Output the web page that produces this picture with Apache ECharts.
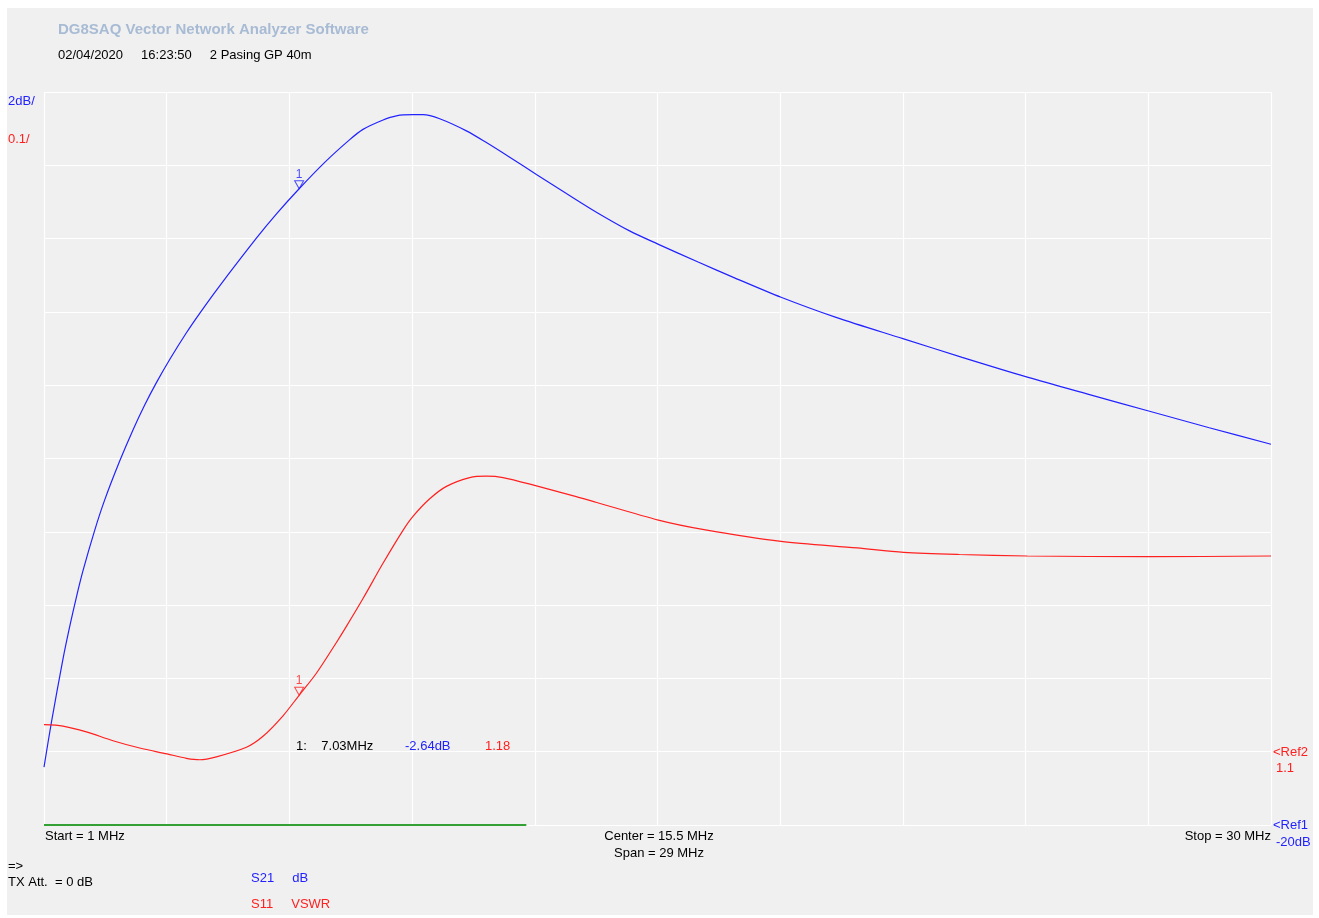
<!DOCTYPE html>
<html>
<head>
<meta charset="utf-8">
<script src="https://cdn.jsdelivr.net/npm/echarts@6/dist/echarts.min.js"></script>
<style>
html,body{margin:0;padding:0;background:#ffffff;}
#panel{position:absolute;left:7px;top:8px;width:1306px;height:907px;background:#f0f0f0;}
#main{position:absolute;left:0;top:0;width:1319px;height:918px;}
</style>
</head>
<body>
<div id="panel"></div>
<div id="main"></div>
<script>
// Frequencies (MHz) and S21 magnitude (dB)
const freqS21 = [1.00,1.175,1.449,1.607,1.766,1.922,2.198,2.435,2.789,3.103,3.380,3.657,3.971,4.366,4.680,5.113,6.020,6.50,7.03,7.635,8.226,8.540,9.00,9.329,9.72,9.958,10.352,10.983,11.456,12.007,12.638,13.347,14.056,14.84,15.51,16.46,17.28,18.42,19.72,21.30,22.70,24.24,25.69,27.13,28.54,30.0];
const s21dB = [-18.42,-17.20,-15.47,-14.59,-13.78,-13.06,-11.96,-11.13,-10.07,-9.22,-8.54,-7.93,-7.30,-6.57,-6.04,-5.35,-3.99,-3.32,-2.64,-1.92,-1.30,-1.02,-0.77,-0.65,-0.62,-0.62,-0.73,-1.06,-1.38,-1.78,-2.25,-2.77,-3.28,-3.79,-4.15,-4.64,-5.05,-5.60,-6.15,-6.73,-7.24,-7.78,-8.25,-8.71,-9.16,-9.61];

// Frequencies (MHz) and S11 VSWR
const freqS11 = [1.00,1.449,2.002,2.631,3.262,3.907,4.366,4.680,5.075,5.784,6.176,6.649,7.03,7.438,7.911,8.147,8.540,9.012,9.485,9.721,10.116,10.511,11.061,11.456,11.848,12.617,13.58,14.063,15.52,16.60,18.42,20.22,21.32,22.64,24.24,27.14,30.0];
const s11VSWR = [1.137,1.135,1.127,1.115,1.105,1.097,1.091,1.089,1.093,1.106,1.121,1.149,1.177,1.207,1.249,1.271,1.309,1.357,1.402,1.421,1.445,1.462,1.474,1.476,1.474,1.463,1.448,1.440,1.416,1.403,1.387,1.378,1.372,1.369,1.367,1.366,1.367];

// Marker 1
const markerFreq = 7.03;
const markerS21 = -2.64;
const markerS11 = 1.177;

// Sweep progress (MHz)
const sweepRange = [1, 12.4];

// Scale settings
const freqStart = 1, freqStop = 30;
const dbMin = -20, dbMax = 0, dbDiv = 2;
const vswrMin = 1.0, vswrMax = 2.0;
const divisions = 10;

const BLUE = '#2222ff';
const RED = '#ff2020';
const FONT = 'Liberation Sans, Arial, sans-serif';
const FS = '13px ';

const chart = echarts.init(document.getElementById('main'), null, {renderer:'canvas'});

function txt(x, y, s, color, align) {
  return {
    type: 'text', x: x, y: y, z: 10,
    style: { text: s, fill: color || '#000', font: FS + FONT, align: align || 'left', verticalAlign: 'middle' }
  };
}

const option = {
  backgroundColor: 'transparent',
  animation: false,
  grid: { left: 44, right: 48, top: 92, bottom: 93, containLabel: false },
  xAxis: [
    { type: 'value', min: freqStart, max: freqStop, show: false },
    { type: 'value', min: 0, max: divisions, interval: 1, position: 'bottom',
      axisLine:{show:false}, axisTick:{show:false}, axisLabel:{show:false},
      splitLine:{show:true, lineStyle:{color:'#ffffff', width:1.2}} }
  ],
  yAxis: [
    { type: 'value', min: dbMin, max: dbMax, interval: dbDiv,
      axisLine:{show:false}, axisTick:{show:false}, axisLabel:{show:false},
      splitLine:{show:true, lineStyle:{color:'#ffffff', width:1.2}} },
    { type: 'value', min: vswrMin, max: vswrMax, show: false, splitLine:{show:false} }
  ],
  series: [
    { type: 'line', name: 'S21', xAxisIndex: 0, yAxisIndex: 0, showSymbol: false, smooth: 0.3,
      lineStyle: { color: BLUE, width: 1.2 }, z: 3,
      data: freqS21.map((f, i) => [f, s21dB[i]]) },
    { type: 'line', name: 'S11', xAxisIndex: 0, yAxisIndex: 1, showSymbol: false, smooth: 0.3,
      lineStyle: { color: RED, width: 1.2 }, z: 3,
      data: freqS11.map((f, i) => [f, s11VSWR[i]]) },
    { type: 'line', name: 'sweep', xAxisIndex: 0, yAxisIndex: 0, showSymbol: false,
      lineStyle: { color: '#33a033', width: 2 }, z: 4,
      data: sweepRange.map(f => [f, dbMin]) },
    { type: 'scatter', xAxisIndex: 0, yAxisIndex: 0, z: 5,
      symbol: 'path://M0,0L10,0L5,9Z', symbolSize: [9, 8], symbolOffset: [0, -4],
      itemStyle: { color: 'rgba(0,0,0,0)', borderColor: BLUE, borderWidth: 1 },
      label: { show: true, position: 'top', distance: 0, formatter: '1', color: BLUE, fontSize: 12, fontFamily: FONT },
      data: [[markerFreq, markerS21]] },
    { type: 'scatter', xAxisIndex: 0, yAxisIndex: 1, z: 5,
      symbol: 'path://M0,0L10,0L5,9Z', symbolSize: [9, 8], symbolOffset: [0, -4],
      itemStyle: { color: 'rgba(0,0,0,0)', borderColor: RED, borderWidth: 1 },
      label: { show: true, position: 'top', distance: 0, formatter: '1', color: RED, fontSize: 12, fontFamily: FONT },
      data: [[markerFreq, markerS11]] }
  ],
  graphic: [
    { type: 'text', x: 58, y: 30, z: 10,
      style: { text: 'DG8SAQ Vector Network Analyzer Software', fill: '#a8bbd4', font: 'bold 15px ' + FONT, verticalAlign: 'middle' } },
    txt(58, 55, '02/04/2020     16:23:50     2 Pasing GP 40m'),
    txt(8, 101, '2dB/', BLUE),
    txt(8, 139, '0.1/', RED),
    txt(296, 746, '1:    ' + markerFreq.toFixed(2) + 'MHz'),
    txt(405, 746, markerS21.toFixed(2) + 'dB', BLUE),
    txt(485, 746, markerS11.toFixed(2), RED),
    txt(1273, 752, '<Ref2', RED),
    txt(1276, 768, (vswrMin + 0.1).toFixed(1), RED),
    txt(1273, 825, '<Ref1', BLUE),
    txt(1276, 842, dbMin + 'dB', BLUE),
    txt(45, 836, 'Start = ' + freqStart + ' MHz'),
    txt(659, 836, 'Center = ' + ((freqStart + freqStop) / 2) + ' MHz', '#000', 'center'),
    txt(659, 853, 'Span = ' + (freqStop - freqStart) + ' MHz', '#000', 'center'),
    txt(1271, 836, 'Stop = ' + freqStop + ' MHz', '#000', 'right'),
    txt(8, 866, '=>'),
    txt(8, 882, 'TX Att.  = 0 dB'),
    txt(251, 878, 'S21     dB', BLUE),
    txt(251, 904, 'S11     VSWR', RED)
  ]
};

chart.setOption(option);
</script>
</body>
</html>
